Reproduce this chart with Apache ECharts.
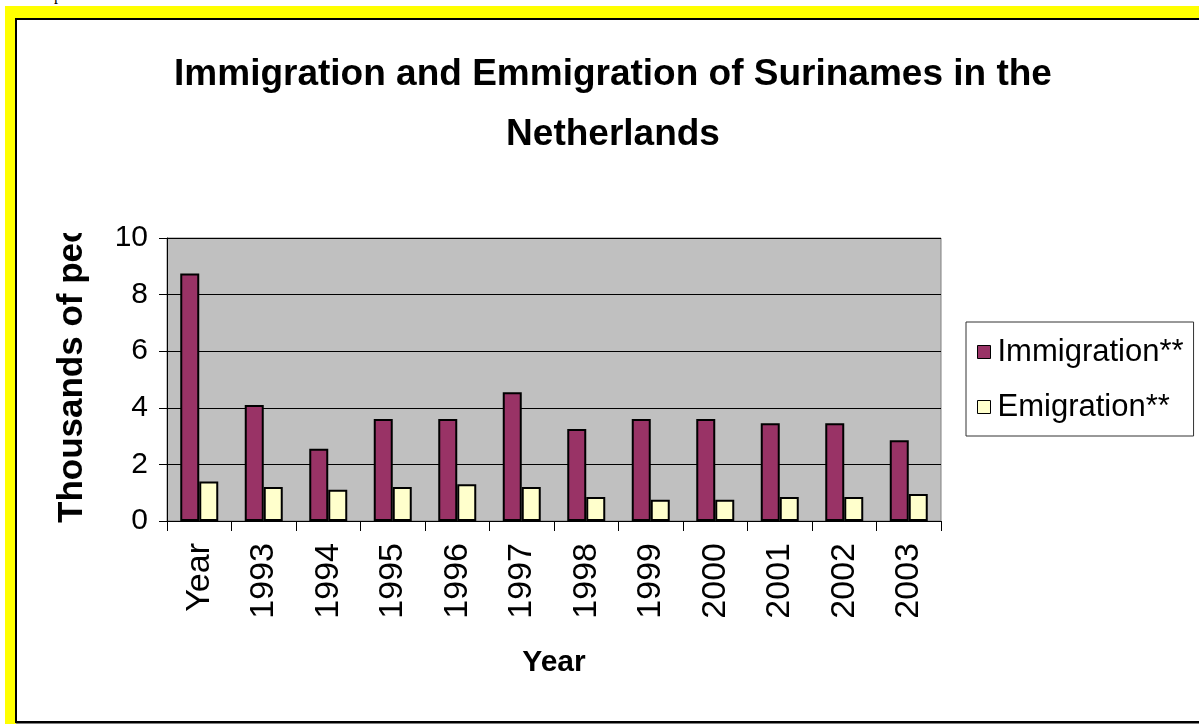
<!DOCTYPE html>
<html>
<head>
<meta charset="utf-8">
<script src="https://cdn.jsdelivr.net/npm/echarts@6/dist/echarts.min.js"></script>
<style>
html,body{margin:0;padding:0;width:1199px;height:724px;overflow:hidden;background:#fff;}
#frame{position:absolute;left:5px;top:6px;width:1194px;height:718px;background:#ffff00;}
#box{position:absolute;left:15px;top:18px;width:1200px;height:701px;background:#fff;border:2px solid #000;box-shadow:1px 1px 0 #808080;}
#stub{position:absolute;left:54px;top:-14px;font:16px "Liberation Serif",serif;color:#000;}
#chart{position:absolute;left:0;top:0;width:1199px;height:724px;}
</style>
</head>
<body>
<div id="frame"></div>
<div id="box"></div>
<div id="stub">p</div>
<div id="chart"></div>
<script>
const categories = ['Year','1993','1994','1995','1996','1997','1998','1999','2000','2001','2002','2003'];
const immigration = [8.75, 4.1, 2.55, 3.6, 3.6, 4.55, 3.25, 3.6, 3.6, 3.45, 3.45, 2.85];
const emigration  = [1.4, 1.2, 1.1, 1.2, 1.3, 1.2, 0.85, 0.75, 0.75, 0.85, 0.85, 0.95];
const seriesNames = ['Immigration**','Emigration**'];
const titleText = 'Immigration and Emmigration of Surinames in the\nNetherlands';
const yName = 'Thousands of people';
const xName = 'Year';

const FONT = '"Liberation Sans", Arial, sans-serif';
const chart = echarts.init(document.getElementById('chart'), null, {renderer:'canvas'});
chart.setOption({
  backgroundColor: 'transparent',
  animation: false,
  title: {
    text: titleText,
    left: 613, top: 45, textAlign: 'center', padding: 0,
    textStyle: {fontFamily: FONT, fontSize: 37, fontWeight: 'bold', color: '#000', lineHeight: 60}
  },
  legend: {
    orient: 'vertical', left: 966, top: 322, width: 204,
    padding: [13, 10, 12, 11],
    borderColor: '#333', borderWidth: 1,
    itemWidth: 13, itemHeight: 13, itemGap: 21,
    icon: 'rect',
    itemStyle: {borderColor: '#000', borderWidth: 1},
    textStyle: {fontFamily: FONT, fontSize: 31, color: '#000', lineHeight: 34, padding: [0,0,0,2]},
    data: seriesNames
  },
  grid: {
    left: 167, top: 238, right: 258, bottom: 203,
    show: true, backgroundColor: '#c0c0c0', borderColor: '#808080', borderWidth: 1,
    containLabel: false
  },
  xAxis: {
    type: 'category', data: categories,
    name: xName, nameLocation: 'middle', nameGap: 127,
    nameTextStyle: {fontFamily: FONT, fontSize: 30, fontWeight: 'bold', color: '#000'},
    axisLine: {show: true, lineStyle: {color: '#000', width: 1}},
    axisTick: {show: true, alignWithLabel: false, length: 10, lineStyle: {color: '#000'}},
    axisLabel: {rotate: 90, margin: 22, fontFamily: FONT, fontSize: 34, color: '#000', interval: 0},
    splitLine: {show: false}
  },
  yAxis: {
    type: 'value', min: 0, max: 10, interval: 2,
    axisLine: {show: true, lineStyle: {color: '#000', width: 1}},
    axisTick: {show: true, length: 8, lineStyle: {color: '#000'}},
    axisLabel: {margin: 19, fontFamily: FONT, fontSize: 30, color: '#000'},
    splitLine: {show: true, lineStyle: {color: '#000', width: 1}}
  },
  graphic: [
    {type: 'text', z: 10, x: 72, y: 523, rotation: Math.PI/2,
     style: {text: yName, font: 'bold 35px ' + FONT, fill: '#000', textAlign: 'left', textVerticalAlign: 'middle'}},
    {type: 'rect', z: 11, shape: {x: 40, y: 150, width: 62, height: 83}, style: {fill: '#fff'}}
  ],
  series: [
    {name: seriesNames[0], type: 'bar', data: immigration, barWidth: 19, barGap: '0%',
     itemStyle: {color: '#993366', borderColor: '#000', borderWidth: 2}},
    {name: seriesNames[1], type: 'bar', data: emigration, barWidth: 19, barGap: '0%',
     itemStyle: {color: '#ffffcc', borderColor: '#000', borderWidth: 2}}
  ]
});
</script>
</body>
</html>
